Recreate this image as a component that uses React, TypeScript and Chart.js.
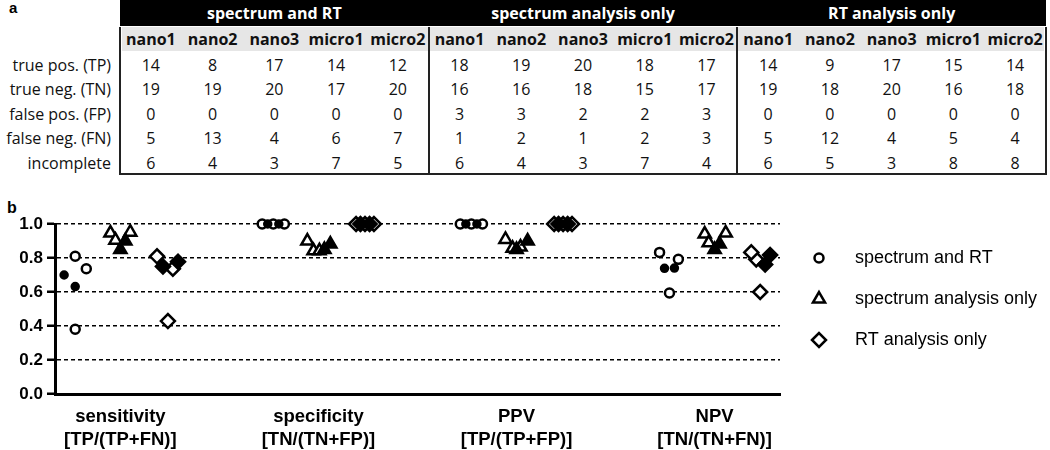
import React, { useEffect, useRef } from "react";
import { Chart, registerables } from "chart.js";
import { drawPoint } from "chart.js/helpers";

Chart.register(...registerables);

// ---------- panel a: table ----------
const groupNames = ["spectrum and RT", "spectrum analysis only", "RT analysis only"];
const sampleNames = ["nano1", "nano2", "nano3", "micro1", "micro2"];
const rowLabels = ["true pos. (TP)", "true neg. (TN)", "false pos. (FP)", "false neg. (FN)", "incomplete"];

const countsSpectrumAndRT = [
  [14, 8, 17, 14, 12],
  [19, 19, 20, 17, 20],
  [0, 0, 0, 0, 0],
  [5, 13, 4, 6, 7],
  [6, 4, 3, 7, 5],
];
const countsSpectrumOnly = [
  [18, 19, 20, 18, 17],
  [16, 16, 18, 15, 17],
  [3, 3, 2, 2, 3],
  [1, 2, 1, 2, 3],
  [6, 4, 3, 7, 4],
];
const countsRTOnly = [
  [14, 9, 17, 15, 14],
  [19, 18, 20, 16, 18],
  [0, 0, 0, 0, 0],
  [5, 12, 4, 5, 4],
  [6, 5, 3, 8, 8],
];

// ---------- panel b: scatter ----------
const metricNames = ["sensitivity", "specificity", "PPV", "NPV"];
const metricFormulas = ["[TP/(TP+FN)]", "[TN/(TN+FP)]", "[TP/(TP+FP)]", "[TN/(TN+FN)]"];
const yTickValues = [0, 0.2, 0.4, 0.6, 0.8, 1.0];
const sampleIsMicro = [false, false, false, true, true];

// values[metric][sample]  (nano1, nano2, nano3, micro1, micro2)
const valuesSpectrumAndRT = [
  [0.737, 0.381, 0.81, 0.7, 0.632],
  [1, 1, 1, 1, 1],
  [1, 1, 1, 1, 1],
  [0.792, 0.594, 0.833, 0.739, 0.741],
];
const valuesSpectrumOnly = [
  [0.947, 0.905, 0.952, 0.9, 0.85],
  [0.842, 0.842, 0.9, 0.882, 0.85],
  [0.857, 0.864, 0.909, 0.9, 0.85],
  [0.941, 0.889, 0.947, 0.882, 0.85],
];
const valuesRTOnly = [
  [0.737, 0.429, 0.81, 0.75, 0.778],
  [1, 1, 1, 1, 1],
  [1, 1, 1, 1, 1],
  [0.792, 0.6, 0.833, 0.762, 0.818],
];

// horizontal scatter spread of points within a group (category units)
const spreadSpectrumAndRT = [
  [0.056, 0, 0, -0.056, 0],
  [-0.056, 0, 0.056, -0.028, 0.028],
  [-0.056, 0, 0.056, -0.028, 0.028],
  [0.045, 0, -0.05, -0.025, 0.025],
];
const spreadSpectrumOnly = [
  [-0.05, -0.025, 0.05, 0.025, 0],
  [-0.025, 0.005, -0.056, 0.06, 0.03],
  [-0.02, 0.02, -0.056, 0.056, 0],
  [-0.05, -0.03, 0.056, 0.025, 0],
];
const spreadRTOnly = [
  [0.03, 0.005, -0.05, -0.02, 0.056],
  [-0.045, 0, 0.045, -0.023, 0.023],
  [-0.045, 0, 0.045, -0.023, 0.023],
  [-0.025, -0.005, -0.05, 0.02, 0.045],
];
const seriesOffsets = [-0.228, 0, 0.235];

const seriesValues = [valuesSpectrumAndRT, valuesSpectrumOnly, valuesRTOnly];
const seriesSpread = [spreadSpectrumAndRT, spreadSpectrumOnly, spreadRTOnly];
const seriesStyles = ["circle", "triangle", "rectRot"];
const openRadius = [4.5, 7, 7];
const filledRadius = [3.5, 7, 7];

const FONT_CHART = "'Liberation Sans', Arial, Helvetica, sans-serif";
const FONT_TABLE = "'Open Sans', 'Liberation Sans', sans-serif";

const sideLegend = {
  id: "sideLegend",
  afterDraw(chart: any) {
    const ctx = chart.ctx;
    const area = chart.chartArea;
    chart.data.datasets.forEach((ds: any, i: number) => {
      const y = area.top + 34 + i * 41;
      ctx.save();
      ctx.fillStyle = "#ffffff";
      ctx.strokeStyle = "#000000";
      ctx.lineWidth = 2.5;
      ctx.setLineDash([]);
      drawPoint(
        ctx,
        { pointStyle: ds.pointStyle, radius: openRadius[i], borderWidth: 2.5, rotation: 0 } as any,
        area.right + 39,
        y
      );
      ctx.fillStyle = "#000000";
      ctx.font = `18px ${FONT_CHART}`;
      ctx.textBaseline = "middle";
      ctx.textAlign = "left";
      ctx.fillText(ds.label, area.right + 75, y);
      ctx.restore();
    });
  },
};

function buildDatasets() {
  return groupNames.map((name, s) => {
    const data: { x: number; y: number }[] = [];
    const radius: number[] = [];
    const fill: string[] = [];
    metricNames.forEach((_, m) => {
      sampleNames.forEach((__, k) => {
        data.push({ x: m + seriesOffsets[s] + seriesSpread[s][m][k], y: seriesValues[s][m][k] });
        radius.push(sampleIsMicro[k] ? filledRadius[s] : openRadius[s]);
        fill.push(sampleIsMicro[k] ? "#000000" : "#ffffff");
      });
    });
    return {
      label: name,
      data,
      pointStyle: seriesStyles[s],
      pointRadius: radius,
      pointHoverRadius: radius,
      pointBackgroundColor: fill,
      pointBorderColor: "#000000",
      pointBorderWidth: 2.5,
      showLine: false,
      clip: false as any,
    };
  });
}

const TABLE_LEFT = 120;
const TABLE_RIGHT = 1046;
const COL_W = (TABLE_RIGHT - TABLE_LEFT) / 15;
const ROW_TOP = 52.5;
const ROW_H = 24.5;

export default function App() {
  const ref = useRef<HTMLCanvasElement>(null);

  useEffect(() => {
    const chart = new Chart(ref.current as HTMLCanvasElement, {
      type: "scatter",
      data: { datasets: buildDatasets() as any },
      plugins: [sideLegend as any],
      options: {
        responsive: false,
        animation: false,
        layout: { padding: { top: 44, right: 270, left: 0, bottom: 0 } },
        plugins: { legend: { display: false }, tooltip: { enabled: false } },
        scales: {
          x: {
            type: "linear",
            min: -0.33,
            max: 3.33,
            afterBuildTicks: (scale: any) => {
              scale.ticks = metricNames.map((_, i) => ({ value: i }));
            },
            afterFit: (scale: any) => {
              scale.height = 56;
            },
            grid: { display: false, drawTicks: false, tickLength: 0 },
            border: { display: true, color: "#000000", width: 3 },
            ticks: {
              autoSkip: false,
              maxRotation: 0,
              padding: 11,
              color: "#000000",
              font: { family: FONT_CHART, size: 18.5, weight: "bold", lineHeight: 1.25 },
              callback: (v: any) => {
                const i = Math.round(Number(v));
                return [metricNames[i], metricFormulas[i]];
              },
            },
          },
          y: {
            type: "linear",
            min: 0,
            max: 1,
            afterBuildTicks: (scale: any) => {
              scale.ticks = yTickValues.map((v) => ({ value: v }));
            },
            afterFit: (scale: any) => {
              scale.width = 55;
            },
            grid: {
              color: "#000000",
              lineWidth: 1.5,
              tickLength: 8,
              tickColor: "#000000",
              tickWidth: 2.5,
              tickBorderDash: [1, 0],
              drawTicks: true,
            } as any,
            border: { display: true, color: "#000000", width: 3, dash: [4, 3] },
            ticks: {
              padding: 4,
              color: "#000000",
              font: { family: FONT_CHART, size: 17, weight: "bold" },
              callback: (v: any) => Number(v).toFixed(1),
            },
          },
        },
      } as any,
    });
    return () => chart.destroy();
  }, []);

  const groupCounts = [countsSpectrumAndRT, countsSpectrumOnly, countsRTOnly];

  const cells: React.ReactNode[] = [];
  groupNames.forEach((g, gi) => {
    cells.push(
      <div
        key={"g" + gi}
        style={{
          position: "absolute",
          left: TABLE_LEFT + gi * 5 * COL_W,
          top: 0,
          width: 5 * COL_W,
          height: 26,
          lineHeight: "26px",
          textAlign: "center",
          color: "#ffffff",
          fontWeight: 700,
          fontSize: 16,
        }}
      >
        {g}
      </div>
    );
    sampleNames.forEach((s, si) => {
      const col = gi * 5 + si;
      cells.push(
        <div
          key={"s" + col}
          style={{
            position: "absolute",
            left: TABLE_LEFT + col * COL_W,
            top: 27,
            width: COL_W,
            height: 24,
            lineHeight: "24px",
            textAlign: "center",
            fontWeight: 700,
            fontSize: 16,
            color: "#111",
          }}
        >
          {s}
        </div>
      );
      groupCounts[gi].forEach((row, ri) => {
        cells.push(
          <div
            key={`c${col}-${ri}`}
            style={{
              position: "absolute",
              left: TABLE_LEFT + col * COL_W,
              top: ROW_TOP + ri * ROW_H,
              width: COL_W,
              height: ROW_H,
              lineHeight: ROW_H + "px",
              textAlign: "center",
              fontSize: 16,
              color: "#111",
            }}
          >
            {row[si]}
          </div>
        );
      });
    });
  });

  return (
    <div
      style={{
        position: "absolute",
        left: 0,
        top: 0,
        width: 1050,
        height: 450,
        background: "#ffffff",
        overflow: "hidden",
        fontFamily: FONT_TABLE,
      }}
    >
      <div style={{ position: "absolute", left: 9, top: -1, fontFamily: FONT_CHART, fontWeight: 700, fontSize: 15 }}>a</div>
      <div style={{ position: "absolute", left: 7, top: 199, fontFamily: FONT_CHART, fontWeight: 700, fontSize: 16 }}>b</div>

      <div style={{ position: "absolute", left: TABLE_LEFT, top: 0, width: TABLE_RIGHT - TABLE_LEFT, height: 26, background: "#000" }} />
      <div style={{ position: "absolute", left: TABLE_LEFT + 2, top: 27, width: TABLE_RIGHT - TABLE_LEFT - 4, height: 24, background: "#e6e6e6" }} />
      {rowLabels.map((r, ri) => (
        <div
          key={"r" + ri}
          style={{
            position: "absolute",
            left: 0,
            top: ROW_TOP + ri * ROW_H,
            width: 111,
            height: ROW_H,
            lineHeight: ROW_H + "px",
            textAlign: "right",
            fontSize: 16,
            color: "#111",
            whiteSpace: "nowrap",
          }}
        >
          {r}
        </div>
      ))}
      {cells}
      {[0, 1, 2, 3].map((k) => (
        <div
          key={"v" + k}
          style={{
            position: "absolute",
            left: TABLE_LEFT + k * 5 * COL_W - 1,
            top: 27,
            width: 2,
            height: 148,
            background: "#222",
          }}
        />
      ))}
      <div style={{ position: "absolute", left: TABLE_LEFT - 1, top: 173, width: TABLE_RIGHT - TABLE_LEFT + 2, height: 2, background: "#222" }} />

      <canvas
        ref={ref}
        width={1050}
        height={270}
        style={{ position: "absolute", left: 0, top: 180, width: 1050, height: 270 }}
      />
    </div>
  );
}
